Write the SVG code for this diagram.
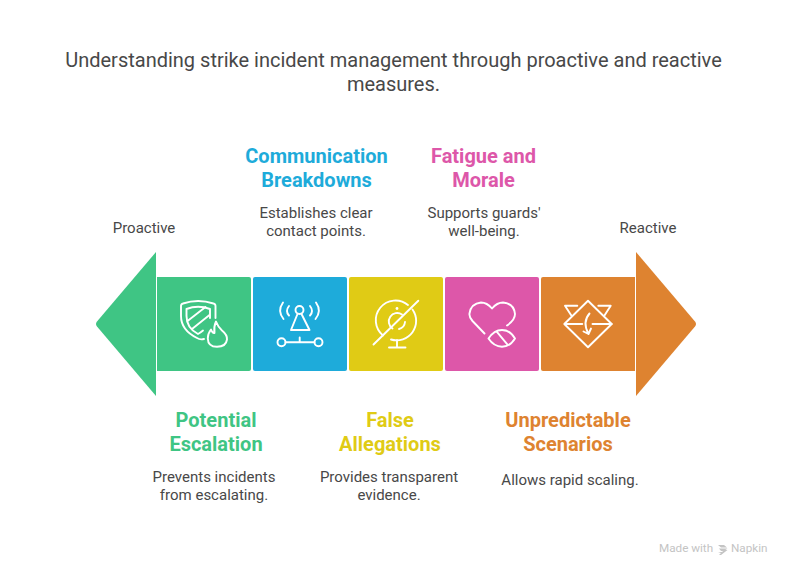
<svg xmlns="http://www.w3.org/2000/svg" width="792" height="576" viewBox="0 0 792 576">
<style>
text{font-family:Roboto,"Liberation Sans",sans-serif;text-anchor:middle}
.t{font-size:20px;fill:#484848}
.h{font-size:20px;font-weight:700}
.d{font-size:15px;fill:#484848}
.l{font-size:15px;fill:#484848}
.i{fill:none;stroke:#fff;stroke-width:1.9;stroke-linecap:round;stroke-linejoin:round}
.f{font-size:11.7px;fill:#c4c4c4;text-anchor:start}
</style>
<rect width="792" height="576" fill="#fff"/>
<g id="title">
<text class="t" x="393.5" y="67">Understanding strike incident management through proactive and reactive</text>
<text class="t" x="393.5" y="91">measures.</text>
</g>
<g id="connectors">
<path id="arrow-proactive" d="M156 252V396L97 326.5Q95 324 97 321.5Z" fill="#3fc584"/>
<path id="arrow-reactive" d="M636 252V396L695 326.5Q697 324 695 321.5Z" fill="#de8330"/>
</g>
<g id="label-proactive"><text class="l" x="144" y="233">Proactive</text></g>
<g id="label-reactive"><text class="l" x="648" y="233">Reactive</text></g>
<g id="node-escalation">
<path d="M157 277H249a2 2 0 0 1 2 2V369a2 2 0 0 1-2 2H157Z" fill="#3fc584"/>
<path class="i" d="M204 339Q200 340 197 338Q181 330 181 316V306Q181 304 183 303.500Q198 298.500 213.500 303.500Q215.500 304 215.500 306V318"/>
<path class="i" d="M203 330.500Q200 333 198 334Q186.500 328 186.500 316V309Q198 304.500 210 309V318"/>
<path class="i" d="M187.500 321L205.500 307M192 329L209.500 315"/>
<path class="i" d="M216 321.500Q218 327 222 330.500Q227.500 335 227 339.500Q226 346.800 217 346.800Q208 346.800 207.800 338.500Q207.800 333.500 211 329.500Q212.500 333.500 214.500 333Q213.500 327 216 321.500Z"/>
<text class="h" x="216" y="427" fill="#3fc584">Potential</text>
<text class="h" x="216" y="451" fill="#3fc584">Escalation</text>
<text class="d" x="214" y="482">Prevents incidents</text>
<text class="d" x="214" y="500">from escalating.</text>
</g>
<g id="node-communication">
<rect x="253" y="277" width="94" height="94" rx="2" fill="#1eabda"/>
<circle class="i" cx="299.500" cy="310" r="4"/>
<path class="i" d="M297.500 314L291 330H309.500L301.500 314"/>
<path class="i" d="M283 302.500Q277 311 283.500 319M316 302.500Q322 311 315.500 319M289 306Q285 311 289 315.500M310 306Q314 311 310 315.500"/>
<circle class="i" cx="281.500" cy="342.300" r="4"/>
<circle class="i" cx="318.500" cy="342.300" r="4"/>
<path class="i" d="M285.500 342.300H314.500M299.700 337.500V342.300"/>
<text class="h" x="316.500" y="163" fill="#1eabda">Communication</text>
<text class="h" x="316.500" y="187" fill="#1eabda">Breakdowns</text>
<text class="d" x="316" y="218">Establishes clear</text>
<text class="d" x="316" y="236">contact points.</text>
</g>
<g id="node-allegations">
<rect x="349" y="277" width="94" height="94" rx="2" fill="#e0cb15"/>
<path class="i" d="M373.500 344.500L418.300 300.700"/>
<path class="i" d="M383 335.500A19.500 19.500 0 0 1 408 305M412.500 309.500A19.500 19.500 0 0 1 391 339.500"/>
<path class="i" d="M392.500 328.500A8 8 0 0 1 402 314.500M405 322A8 8 0 0 1 399 329"/>
<circle cx="397" cy="308.500" r="1.400" fill="#fff"/>
<path class="i" d="M397 340V347M389 347.500H405.500"/>
<text class="h" x="390" y="427" fill="#e0cb15">False</text>
<text class="h" x="390" y="451" fill="#e0cb15">Allegations</text>
<text class="d" x="389" y="482">Provides transparent</text>
<text class="d" x="389" y="500">evidence.</text>
</g>
<g id="node-fatigue">
<rect x="445" y="277" width="94" height="94" rx="2" fill="#dd57a9"/>
<path class="i" d="M484.500 333.500L472.500 321Q469 317 469.500 313.500Q471 303.500 481 302.500Q487 302.500 492 308.500Q497 302.500 503 302.500Q514 303.500 515 314Q515 320 507 325.500"/>
<path class="i" d="M488.500 338.500Q494 330 502 330Q510 330 515 338.500Q510 346.700 502 346.700Q494 346.700 488.500 338.500Z"/>
<path class="i" d="M496.700 331.700L507.300 344.300"/>
<text class="h" x="483.500" y="163" fill="#dd57a9">Fatigue and</text>
<text class="h" x="483.500" y="187" fill="#dd57a9">Morale</text>
<text class="d" x="484" y="218">Supports guards'</text>
<text class="d" x="484" y="236">well-being.</text>
</g>
<g id="node-unpredictable">
<path d="M543 277H635V371H543a2 2 0 0 1-2-2V279a2 2 0 0 1 2-2Z" fill="#de8330"/>
<path class="i" d="M588 300.700L611.700 324L588 347.300L564.300 324Z"/>
<path class="i" d="M565 324H582.300M592.500 324H611.700"/>
<path class="i" d="M577.300 305.700H565L571.500 315.700M598.300 305.700H610.700L604.300 315.700"/>
<path class="i" d="M589.500 313.500Q582 322 588.500 334M583.500 331.500L588.500 334L591 328.500"/>
<text class="h" x="568" y="427" fill="#de8330">Unpredictable</text>
<text class="h" x="568" y="451" fill="#de8330">Scenarios</text>
<text class="d" x="570" y="485">Allows rapid scaling.</text>
</g>
<g id="watermark">
<text class="f" x="659" y="552">Made with</text>
<path d="M718 545H724L727 547.500H721ZM719 548.500H727.500L723 551H721ZM718 552H722L725 549.500L727.500 550L721 555H719L721 553Z" fill="#c4c4c4"/>
<text class="f" x="731" y="552">Napkin</text>
</g>
</svg>
